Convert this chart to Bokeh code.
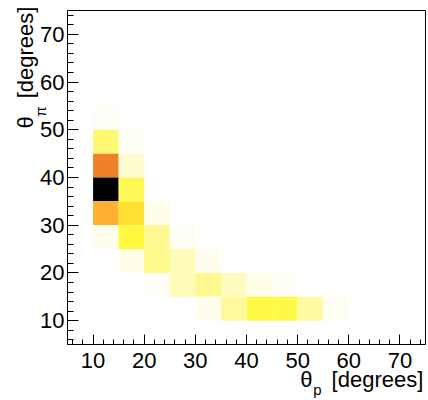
import numpy as np
from bokeh.plotting import figure
from bokeh.models import (LinearColorMapper, ColumnDataSource, Range1d, SingleIntervalTicker,
                          LinearAxis, FixedTicker)
from bokeh.embed import file_html
from bokeh.resources import INLINE

# ---- data: 2D histogram (5-degree bins), lower bin edges and counts ----
bin_width = 5
theta_p_low = [10, 10, 10, 10, 10, 10,
               15, 15, 15, 15, 15, 15,
               20, 20, 20, 20,
               25, 25, 25,
               30, 30, 30,
               35, 35,
               40, 40,
               45, 45,
               50,
               55]
theta_pi_low = [50, 45, 40, 35, 30, 25,
                45, 40, 35, 30, 25, 20,
                30, 25, 20, 15,
                25, 20, 15,
                20, 15, 10,
                15, 10,
                15, 10,
                15, 10,
                10,
                10]
counts = [2, 24, 68, 100, 55, 4,
          2, 10, 27, 42, 31, 5,
          5, 20, 21, 2,
          3, 14, 14,
          4, 20, 4,
          13, 18,
          5, 29,
          2, 29,
          17,
          3]

tick_interval = 10
x_range = (5, 75)
y_range = (5, 75)
x_title = ["θ", "p", "[degrees]"]
y_title = ["θ", "π", "[degrees]"]

# ---- palette: inverted black-body style (white -> yellow -> orange -> black) ----
stops_t = [0.0, 0.10, 0.20, 0.30, 0.42, 0.55, 0.68, 0.84, 1.0]
stops_c = ["#FFFFFF", "#FFFCD0", "#FFF890", "#FFFA40", "#FFE030",
           "#FFB030", "#F08228", "#B02810", "#000000"]
def hex2rgb(h):
    return [int(h[i:i + 2], 16) for i in (1, 3, 5)]
rgb = np.array([hex2rgb(c) for c in stops_c], dtype=float)
palette = []
for t in np.linspace(0, 1, 256):
    r, g, b = (np.interp(t, stops_t, rgb[:, k]) for k in range(3))
    palette.append("#%02X%02X%02X" % (int(round(r)), int(round(g)), int(round(b))))

mapper = LinearColorMapper(palette=palette, low=0, high=max(counts))

left = np.array(theta_p_low, dtype=float)
bottom = np.array(theta_pi_low, dtype=float)
src = ColumnDataSource(dict(left=left, right=left + bin_width,
                            bottom=bottom, top=bottom + bin_width,
                            counts=counts))

FONT = "Liberation Sans"
W, H = 428, 400
B_LEFT, B_RIGHT, B_TOP, B_BOTTOM = 67, 3, 10, 56

p = figure(width=W, height=H, x_range=Range1d(*x_range), y_range=Range1d(*y_range),
           output_backend="svg", toolbar_location=None,
           min_border_left=B_LEFT, min_border_right=B_RIGHT,
           min_border_top=B_TOP, min_border_bottom=B_BOTTOM)
p.quad(left="left", right="right", bottom="bottom", top="top", source=src,
       fill_color={"field": "counts", "transform": mapper}, line_color=None)

p.grid.visible = False
p.outline_line_color = "black"
p.outline_line_width = 1
p.background_fill_color = "white"
p.border_fill_color = "white"

for ax in (p.xaxis[0], p.yaxis[0]):
    ax.ticker = SingleIntervalTicker(interval=tick_interval, num_minor_ticks=5)
    ax.axis_line_color = "black"
    ax.major_tick_line_color = "black"
    ax.minor_tick_line_color = "black"
    ax.major_tick_out = 0
    ax.minor_tick_out = 0
    ax.major_label_text_font = FONT
    ax.major_label_text_font_size = "22px"
    ax.major_label_text_color = "black"
    ax.axis_label = None

p.xaxis[0].major_tick_in = 10
p.xaxis[0].minor_tick_in = 5
p.xaxis[0].major_label_standoff = 8
p.yaxis[0].major_tick_in = 11
p.yaxis[0].minor_tick_in = 6
p.yaxis[0].major_label_standoff = 3

# ---- axis titles: θ with subscript, set as label-only axes outside the frame ----
fw = W - B_LEFT - B_RIGHT
fh = H - B_TOP - B_BOTTOM
def px_to_x(px):   # canvas pixel column -> data x
    return round(x_range[0] + (px - B_LEFT) * (x_range[1] - x_range[0]) / fw, 2)
def px_to_y(py):   # canvas pixel row -> data y
    return round(y_range[0] + (H - B_BOTTOM - py) * (y_range[1] - y_range[0]) / fh, 2)

def title_axis(side, ticks, labels, size, standoff, vertical=False):
    ax = LinearAxis(ticker=FixedTicker(ticks=ticks),
                    major_label_overrides=dict(zip(ticks, labels)),
                    axis_line_color=None, major_tick_line_color=None,
                    minor_tick_line_color=None,
                    major_tick_in=0, major_tick_out=0, minor_tick_in=0, minor_tick_out=0,
                    major_label_text_font=FONT, major_label_text_font_size=size,
                    major_label_text_color="black", major_label_standoff=standoff,
                    axis_label=None)
    if vertical:
        ax.major_label_orientation = "vertical"
    p.add_layout(ax, side)

# x title: "θ" + subscript "p" + "[degrees]"
title_axis("below", [px_to_x(306), px_to_x(377)], [x_title[0], x_title[2]], "22px", -4)
title_axis("below", [px_to_x(317)], [x_title[1]], "15px", -14)

# y title: subscript "π" (inner) then "θ" and "[degrees]"
title_axis("left", [px_to_y(111)], [y_title[1]], "15px", -12, vertical=True)
title_axis("left", [px_to_y(122), px_to_y(52)], [y_title[0], y_title[2]], "22px", -9, vertical=True)

open("out.html", "w").write(file_html(p, INLINE))
